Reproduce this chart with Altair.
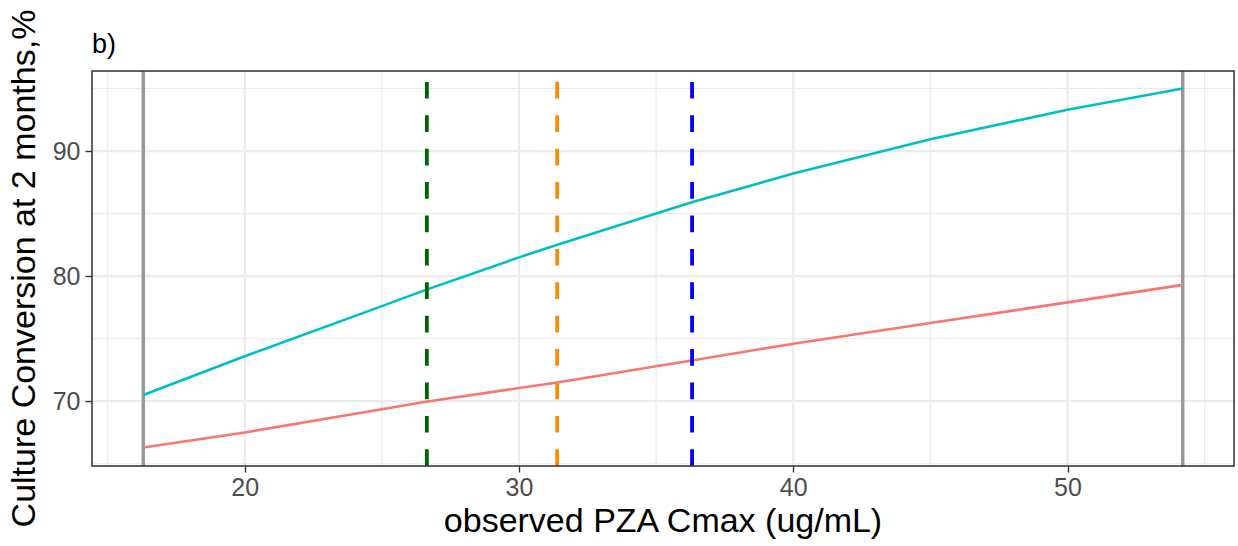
import altair as alt
import pandas as pd

# ---- data ----
cmax = [16.3, 20, 25, 26.6, 30, 31.4, 35, 36.3, 40, 45, 50, 54.2]
conv_teal = [70.5, 73.6, 77.6, 78.9, 81.5, 82.5, 85.0, 85.9, 88.2, 90.95, 93.3, 95.0]
conv_red = [66.3, 67.5, 69.35, 69.95, 71.05, 71.5, 72.8, 73.25, 74.6, 76.25, 77.9, 79.3]

range_lines = [16.3, 54.2]
cutoffs = [26.64, 31.39, 36.31]
cutoff_colors = ["#006400", "#FF8C00", "#0000FF"]

x_major = [20, 30, 40, 50]
x_minor = [15, 25, 35, 45, 55]
y_major = [70, 80, 90]
y_minor = [65, 75, 85, 95]

title_text = "b)"
x_title = "observed PZA Cmax (ug/mL)"
y_title = "Culture Conversion at 2 months,%"

W, H = 1142, 395
FONT = "Liberation Sans"

xscale = alt.Scale(domain=[14.43, 56.07], nice=False, zero=False)
yscale = alt.Scale(domain=[64.82, 96.4], nice=False, zero=False)

curves = pd.DataFrame({
    "cmax": cmax * 2,
    "conv": conv_teal + conv_red,
    "grp": ["teal"] * len(cmax) + ["red"] * len(cmax),
})

base_x_axis = alt.Axis(values=x_major, grid=False, domain=False, title=None,
                       labelFontSize=25, labelColor="#4D4D4D", labelFont=FONT,
                       tickColor="#333333", tickWidth=1.4, tickSize=6, labelPadding=3)
base_y_axis = alt.Axis(values=y_major, grid=False, domain=False, title=None,
                       labelFontSize=25, labelColor="#4D4D4D", labelFont=FONT,
                       tickColor="#333333", tickWidth=1.4, tickSize=7, labelPadding=5)

gx_minor = alt.Chart(pd.DataFrame({"v": x_minor})).mark_rule(color="#EBEBEB", strokeWidth=1.2).encode(
    x=alt.X("v:Q", scale=xscale, axis=base_x_axis), y=alt.value(0), y2=alt.value(H))
gy_minor = alt.Chart(pd.DataFrame({"v": y_minor})).mark_rule(color="#EBEBEB", strokeWidth=1.2).encode(
    y=alt.Y("v:Q", scale=yscale, axis=base_y_axis), x=alt.value(0), x2=alt.value(W))
gx_major = alt.Chart(pd.DataFrame({"v": x_major})).mark_rule(color="#EBEBEB", strokeWidth=2.2).encode(
    x=alt.X("v:Q", scale=xscale), y=alt.value(0), y2=alt.value(H))
gy_major = alt.Chart(pd.DataFrame({"v": y_major})).mark_rule(color="#EBEBEB", strokeWidth=2.2).encode(
    y=alt.Y("v:Q", scale=yscale), x=alt.value(0), x2=alt.value(W))

gray = alt.Chart(pd.DataFrame({"v": range_lines})).mark_rule(color="#999999", strokeWidth=3.5).encode(
    x=alt.X("v:Q", scale=xscale), y=alt.value(H), y2=alt.value(0))

lines = alt.Chart(curves).mark_line(strokeWidth=2.6).encode(
    x=alt.X("cmax:Q", scale=xscale),
    y=alt.Y("conv:Q", scale=yscale),
    color=alt.Color("grp:N", scale=alt.Scale(domain=["teal", "red"], range=["#00BFC4", "#F8766D"]), legend=None),
)

dashed = alt.Chart(pd.DataFrame({"v": cutoffs, "c": cutoff_colors})).mark_rule(
    strokeWidth=3.8, strokeDash=[16.7, 16.7]).encode(
    x=alt.X("v:Q", scale=xscale), y=alt.value(H), y2=alt.value(0),
    color=alt.Color("c:N", scale=None, legend=None))

border = alt.Chart(pd.DataFrame({"t": [0]})).mark_rect(
    fill=None, stroke="#333333", strokeWidth=1.5).encode(
    x=alt.value(0), x2=alt.value(W), y=alt.value(0), y2=alt.value(H))

t_title = alt.Chart(pd.DataFrame({"t": [title_text]})).mark_text(
    font=FONT, fontSize=27, align="left", baseline="alphabetic", color="black").encode(
    text="t:N", x=alt.value(0), y=alt.value(-18))
t_x = alt.Chart(pd.DataFrame({"t": [x_title]})).mark_text(
    font=FONT, fontSize=34, align="center", baseline="alphabetic", color="black").encode(
    text="t:N", x=alt.value(W / 2), y=alt.value(H + 66))
t_y = alt.Chart(pd.DataFrame({"t": [y_title]})).mark_text(
    font=FONT, fontSize=34, align="center", baseline="alphabetic", angle=270, color="black").encode(
    text="t:N", x=alt.value(-57), y=alt.value(H / 2))

chart = alt.layer(gx_minor, gy_minor, gx_major, gy_major, gray, lines, dashed, border,
                  t_title, t_x, t_y).properties(
    width=W, height=H,
    autosize=alt.AutoSizeParams(type="none"),
    padding={"left": 92, "top": 71, "right": 4, "bottom": 80},
).configure_view(stroke=None).configure(background="white")

chart.save("out.html", embed_options={"renderer": "svg", "actions": False})
